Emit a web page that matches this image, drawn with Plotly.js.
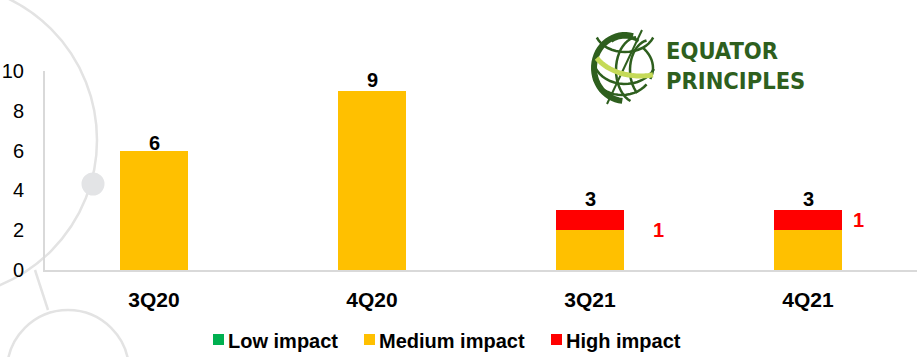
<!DOCTYPE html>
<html><head><meta charset="utf-8">
<script src="https://cdn.plot.ly/plotly-3.0.1.min.js"></script>
<style>html,body{margin:0;padding:0;background:#fff;}#chart{width:923px;height:357px;}</style>
</head><body><div id="chart"></div>
<script>
const categories = ["3Q20", "4Q20", "3Q21", "4Q21"];
const seriesNames = ["Low impact", "Medium impact", "High impact"];
const lowImpact = [0, 0, 0, 0];
const mediumImpact = [6, 9, 2, 2];
const highImpact = [0, 0, 1, 1];
const yTicks = [0, 2, 4, 6, 8, 10];

const colors = ["#00B050", "#FFC000", "#FF0000"];
const seriesData = [lowImpact, mediumImpact, highImpact];
const totals = categories.map((c, i) => lowImpact[i] + mediumImpact[i] + highImpact[i]);
const FONT = "Arial, Liberation Sans, sans-serif";

const traces = seriesData.map((vals, k) => ({
  type: "bar", x: categories, y: vals, name: seriesNames[k],
  marker: {color: colors[k], line: {width: 0}}, showlegend: false, hoverinfo: "skip"
}));

// pixel -> paper helpers for layout-only decoration
const L = 45, W = 872, T = 71, H = 199;
const px = x => (x - L) / W;
const py = y => (T + H - y) / H;

const annotations = [];
const totalYShift = [-5, -2, -2, -2];
categories.forEach((c, i) => {
  annotations.push({x: c, y: totals[i], xref: "x", yref: "y", text: String(totals[i]),
    showarrow: false, yanchor: "bottom", yshift: totalYShift[i],
    font: {family: FONT, size: 20, color: "#000", weight: "bold"}});
});
const redShift = [0, 0, 68, 50];
const redYShift = [0, 0, -9.5, 0];
categories.forEach((c, i) => {
  if (highImpact[i] > 0) {
    annotations.push({x: c, y: mediumImpact[i] + highImpact[i] / 2, xref: "x", yref: "y",
      text: String(highImpact[i]), showarrow: false, xshift: redShift[i], yshift: redYShift[i],
      font: {family: FONT, size: 20, color: "#FF0000", weight: "bold"}});
  }
});

// custom legend
const legendX = [213, 364, 551];
const shapes = [];
seriesNames.forEach((n, k) => {
  shapes.push({type: "rect", xref: "paper", yref: "paper", layer: "above",
    x0: px(legendX[k]), x1: px(legendX[k] + 11), y0: py(345), y1: py(334),
    fillcolor: colors[k], line: {width: 0}});
  annotations.push({xref: "paper", yref: "paper", x: px(legendX[k] + 13), y: py(340.5),
    xanchor: "left", yanchor: "middle", text: n, showarrow: false,
    font: {family: FONT, size: 20, color: "#000", weight: "bold"}});
});

function circ(cx, cy, r, fill, lc, lw, layer) {
  return {type: "circle", xref: "paper", yref: "paper", layer: layer || "below",
    x0: px(cx - r), x1: px(cx + r), y0: py(cy + r), y1: py(cy - r),
    fillcolor: fill, line: {color: lc, width: lw}};
}
function P(pts) { return pts.map((p, i) => (i ? "L" : "M") + px(p[0]) + "," + py(p[1])).join(" "); }
function line(pts, lc, lw, layer) {
  return {type: "path", xref: "paper", yref: "paper", layer: layer || "below",
    path: P(pts), line: {color: lc, width: lw}};
}
function arcPts(cx, cy, rx, ry, a0, a1, n) {
  const pts = [];
  for (let i = 0; i <= n; i++) {
    const a = (a0 + (a1 - a0) * i / n) * Math.PI / 180;
    pts.push([cx + rx * Math.cos(a), cy - ry * Math.sin(a)]);
  }
  return pts;
}
const deco = "#E3E3E3";
shapes.push(circ(-60, 140, 157, "rgba(0,0,0,0)", deco, 2.5));
shapes.push(circ(68, 371, 61, "rgba(0,0,0,0)", deco, 2.5));
shapes.push(circ(93, 184, 11.5, "#E3E4E6", "#E3E4E6", 0));
shapes.push(line([[35, 270], [48, 310]], deco, 2.5));

// logo globe
const g = "#2E5F1E";
shapes.push(line(arcPts(625, 68, 31, 33, 75, 265, 30), g, 6, "above"));
shapes.push(line(arcPts(625, 68, 27, 31, 60, 120, 10), g, 3, "above"));
shapes.push(line(arcPts(638, 70, 22, 33, 95, 250, 20), g, 2.5, "above"));
shapes.push(line(arcPts(650, 70, 20, 30, 100, 230, 20), g, 2.5, "above"));
shapes.push(line(arcPts(608, 68, 45, 32, 40, -20, 12), g, 2.5, "above"));
shapes.push(line(arcPts(625, 30, 30, 22, 200, 340, 16), g, 2.5, "above"));
shapes.push(line(arcPts(625, 58, 32, 26, 200, 335, 16), g, 2.5, "above"));
shapes.push(line(arcPts(622, 70, 30, 25, 200, 325, 16), g, 2.5, "above"));
shapes.push(line([[642, 30], [607, 104]], g, 2, "above"));
shapes.push(line(arcPts(640, 40, 50, 36, 210, 285, 16), "#C5DA58", 5, "above"));

const logoFont = {family: "DejaVu Sans Condensed, sans-serif", size: 23.5, color: g, weight: "bold"};
annotations.push({xref: "paper", yref: "paper", x: px(664), y: py(51), xanchor: "left", yanchor: "middle",
  text: "EQUATOR", showarrow: false, font: logoFont});
annotations.push({xref: "paper", yref: "paper", x: px(664), y: py(81), xanchor: "left", yanchor: "middle",
  text: "PRINCIPLES", showarrow: false, font: logoFont});

const layout = {
  width: 923, height: 357, barmode: "stack", bargap: 0.69,
  margin: {l: 45, r: 6, t: 71, b: 87},
  paper_bgcolor: "#fff", plot_bgcolor: "rgba(0,0,0,0)",
  showlegend: false,
  xaxis: {type: "category", categoryarray: categories, showline: true, linecolor: "#D9D9D9", linewidth: 2,
    ticks: "", ticklabelstandoff: 10, showgrid: false, zeroline: false, fixedrange: true,
    tickfont: {family: FONT, size: 21, color: "#000", weight: "bold"}},
  yaxis: {range: [0, 10], tickvals: yTicks, ticktext: yTicks.map(String), showline: true, linecolor: "#D9D9D9",
    linewidth: 2, ticks: "", ticklabelstandoff: 15, showgrid: false, zeroline: false, fixedrange: true,
    tickfont: {family: FONT, size: 20, color: "#000"}},
  annotations: annotations, shapes: shapes
};
Plotly.newPlot("chart", traces, layout, {displayModeBar: false, staticPlot: true});
</script></body></html>
